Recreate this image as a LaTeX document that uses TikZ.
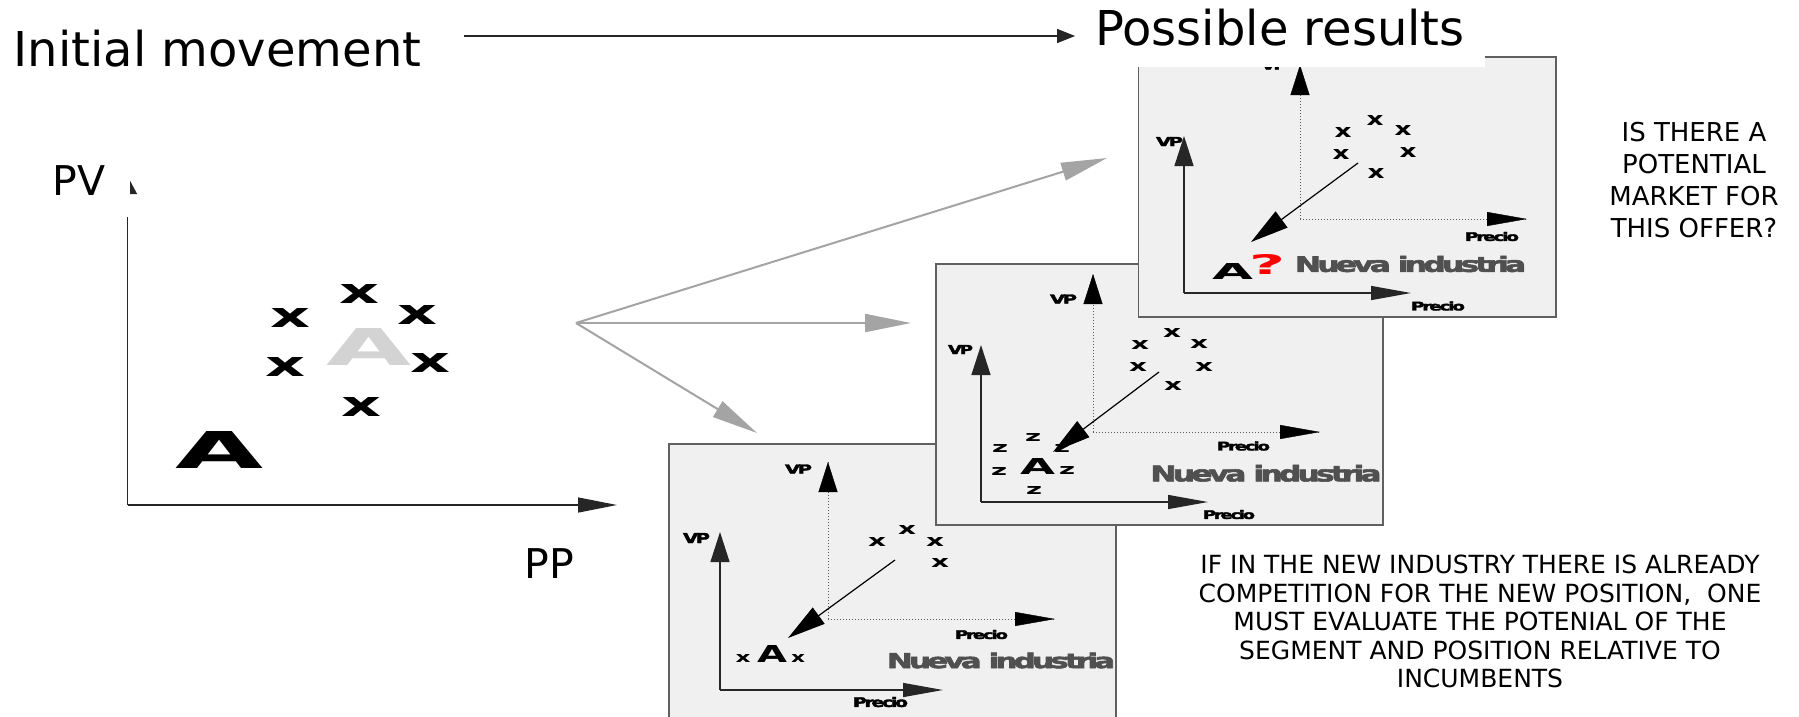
\documentclass[tikz,border=0pt]{standalone}
\usepackage{graphicx}
\usepackage{fontspec}
\setmainfont{DejaVu Sans}
\newfontfamily\heavyfont[FakeBold=2.5,LetterSpace=-12]{DejaVu Sans Bold}
\usetikzlibrary{arrows.meta}

\definecolor{panelfill}{HTML}{F0F0F0}
\definecolor{panelline}{HTML}{606060}
\definecolor{fangray}{HTML}{A4A4A4}
\definecolor{ghost}{HTML}{D3D3D3}
\definecolor{industry}{HTML}{505050}
\definecolor{qred}{HTML}{FF0000}

% bold glyph stretched to an exact box (width, height in pt)
\newcommand{\wideglyph}[3]{\resizebox{#1pt}{#2pt}{\bfseries #3}}
% tightly set heavy label stretched to an exact box
\newcommand{\heavylabel}[3]{\resizebox{#1pt}{#2pt}{\heavyfont #3}}

\tikzset{
  glyph/.style={inner sep=0pt, outer sep=0pt},
  axisline/.style={draw=black!85, line width=1.3pt},
  uptip/.style={-{Triangle[length=30pt,width=19pt]}},
  righttip/.style={-{Triangle[length=40pt,width=14pt]}},
  dotaxis/.style={draw=black!65, line width=1pt, dash pattern=on 1pt off 2pt},
  fanarrow/.style={draw=fangray, line width=2pt, -{Triangle[length=46pt,width=18pt]}},
  pointer/.style={draw=black, line width=1.2pt, -{Triangle[length=38pt,width=20pt]}},
  panel/.style={draw=panelline, fill=panelfill, line width=1.5pt},
  bigtext/.style={font=\fontsize{48}{48}\selectfont},
  axtext/.style={font=\fontsize{41}{41}\selectfont},
}

\begin{document}
\begin{tikzpicture}[x=1pt, y=-1pt]
\useasboundingbox (0,0) rectangle (1799,716);
\clip (0,0) rectangle (1799,716);
\fill[white] (0,0) rectangle (1799,716);

% ---------- initial positioning map ----------
\coordinate (L-o) at (127.5,505);
\coordinate (L-y) at (127.5,176);
\coordinate (L-x) at (617,505);
\draw[axisline, -{Triangle[length=18pt,width=19pt]}] (L-o) -- (L-y);
\draw[axisline, -{Triangle[length=39pt,width=15pt]}] (L-o) -- (L-x);
\node[axtext, fill=white, inner xsep=24.5pt, inner ysep=22pt, anchor=base] (pv) at (79,195) {PV};
\node[axtext, anchor=base] (pp) at (549,578) {PP};

\node[glyph] (A-old) at (220,449.5) {\wideglyph{88}{37}{A}};
\node[glyph, text=ghost] (A-new) at (369.5,346.5) {\wideglyph{85}{37}{A}};
\foreach \p [count=\i] in {(359,294),(290,318),(417,315),(285,367),(430,363),(361,407)}
  \node[glyph] (Lx\i) at \p {\wideglyph{40}{19}{x}};

% ---------- fan of possible moves ----------
\coordinate (fan) at (576,323);
\coordinate (to-P3) at (1107,158);
\coordinate (to-P2) at (911,323);
\coordinate (to-P1) at (757,433);
\draw[fanarrow] (fan) -- (to-P3);
\draw[fanarrow] (fan) -- (to-P2);
\draw[fanarrow] (fan) -- (to-P1);

% ---------- result 1: competitors already there ----------
\path[panel] (669,444) rectangle (1116,740);
\coordinate (P1-o) at (720,690);
\coordinate (P1-y) at (720,532);
\coordinate (P1-x) at (943,690);
\coordinate (P1-bo) at (828,619);
\coordinate (P1-by) at (828,462);
\coordinate (P1-bx) at (1055,619);
\draw[dotaxis] (P1-bo) -- (P1-by);
\draw[dotaxis] (P1-bo) -- (P1-bx);
\draw[black, uptip] ([yshift=-28pt]P1-by) -- (P1-by);
\draw[black, righttip] ([xshift=-38pt]P1-bx) -- (P1-bx);
\draw[axisline, uptip] (P1-o) -- (P1-y);
\draw[axisline, righttip] (P1-o) -- (P1-x);
\node[glyph] (P1-vp) at (696.5,538) {\heavylabel{27}{10}{VP}};
\node[glyph] (P1-pr) at (880.5,702) {\heavylabel{55}{10}{Precio}};
\node[glyph] (P1-bvp) at (798.5,469) {\heavylabel{27}{9}{VP}};
\node[glyph] (P1-bpr) at (981.5,634.5) {\heavylabel{53}{9}{Precio}};
\foreach \p [count=\i] in {(877,542),(907,530),(935,542),(940,563)}
  \node[glyph] (P1x\i) at \p {\wideglyph{18}{9}{x}};
\node[glyph] (P1-xl) at (743,658) {\wideglyph{15}{8}{x}};
\node[glyph] (P1-A) at (772,653.5) {\wideglyph{30}{17}{A}};
\node[glyph] (P1-xr) at (798,658) {\wideglyph{14}{8}{x}};
\node[glyph, text=industry] (P1-ind) at (1001,660.5) {\heavylabel{228}{15.5}{Nueva industria}};
\coordinate (P1-from) at (895,560);
\coordinate (P1-to) at (788,638);
\draw[pointer] (P1-from) -- (P1-to);

% ---------- result 2: new competitors around A ----------
\path[panel] (936,264) rectangle (1383,525);
\coordinate (P2-o) at (981,502);
\coordinate (P2-y) at (981,345);
\coordinate (P2-x) at (1208,502);
\coordinate (P2-bo) at (1093,432);
\coordinate (P2-by) at (1093,274);
\coordinate (P2-bx) at (1320,432);
\draw[dotaxis] (P2-bo) -- (P2-by);
\draw[dotaxis] (P2-bo) -- (P2-bx);
\draw[black, uptip] ([yshift=-28pt]P2-by) -- (P2-by);
\draw[black, righttip] ([xshift=-38pt]P2-bx) -- (P2-bx);
\draw[axisline, uptip] (P2-o) -- (P2-y);
\draw[axisline, righttip] (P2-o) -- (P2-x);
\node[glyph] (P2-vp) at (960.5,349.5) {\heavylabel{25}{9}{VP}};
\node[glyph] (P2-pr) at (1229,514.5) {\heavylabel{52}{9}{Precio}};
\node[glyph] (P2-bvp) at (1063.5,299) {\heavylabel{27}{9}{VP}};
\node[glyph] (P2-bpr) at (1243.5,446) {\heavylabel{53}{9}{Precio}};
\foreach \p [count=\i] in {(1140,345),(1172,333),(1199,344),(1138,367),(1204,367),(1173,386)}
  \node[glyph] (P2x\i) at \p {\wideglyph{18}{9}{x}};
\foreach \p [count=\i] in {(1033,437),(1000,448),(1062,448),(999,471),(1067,470),(1034,490)}
  \node[glyph] (P2z\i) at \p {\wideglyph{16}{8}{z}};
\node[glyph] (P2-A) at (1037.5,466) {\wideglyph{35}{16}{A}};
\node[glyph, text=industry] (P2-ind) at (1266,473.3) {\heavylabel{231}{16.5}{Nueva industria}};
\coordinate (P2-from) at (1159,372);
\coordinate (P2-to) at (1053,452);
\draw[pointer] (P2-from) -- (P2-to);

% ---------- result 3: unexplored space ----------
\path[panel] (1138.5,57) rectangle (1556,317);
\coordinate (P3-o) at (1184,293);
\coordinate (P3-y) at (1184,136);
\coordinate (P3-x) at (1411,293);
\coordinate (P3-bo) at (1300,219);
\coordinate (P3-by) at (1300,65);
\coordinate (P3-bx) at (1527,219);
\draw[dotaxis] (P3-bo) -- (P3-by);
\draw[dotaxis] (P3-bo) -- (P3-bx);
\draw[black, uptip] ([yshift=-28pt]P3-by) -- (P3-by);
\draw[black, righttip] ([xshift=-38pt]P3-bx) -- (P3-bx);
\draw[axisline, uptip] (P3-o) -- (P3-y);
\draw[axisline, righttip] (P3-o) -- (P3-x);
\node[glyph] (P3-vp) at (1169.5,141.5) {\heavylabel{27}{9}{VP}};
\node[glyph] (P3-pr) at (1438,306) {\heavylabel{54}{9}{Precio}};
\node[glyph] (P3-bvp) at (1274,65) {\heavylabel{26}{9}{VP}};
\node[glyph] (P3-bpr) at (1492,236.5) {\heavylabel{54}{9}{Precio}};
\foreach \p [count=\i] in {(1343,132),(1375,120),(1403,130),(1341,154),(1408,152),(1376,173)}
  \node[glyph] (P3x\i) at \p {\wideglyph{17}{10}{x}};
\node[glyph] (P3-A) at (1232.5,271) {\wideglyph{41}{16}{A}};
\node[glyph, text=qred] (P3-q) at (1267,264) {\wideglyph{36}{20}{?}};
\node[glyph, text=industry] (P3-ind) at (1410.5,264) {\heavylabel{231}{16}{Nueva industria}};
\coordinate (P3-from) at (1358,163);
\coordinate (P3-to) at (1251,242);
\draw[pointer] (P3-from) -- (P3-to);

% ---------- headings ----------
\node[bigtext, fill=white, inner xsep=20pt, inner ysep=20.5pt, anchor=base] (results) at (1280,45.5) {Possible results};
\node[bigtext, inner xsep=42pt, anchor=base] (initial) at (217.5,66) {Initial movement};
\coordinate (mv) at (initial.east |- 0,36);
\draw[line width=1.3pt, black!85, -{Triangle[length=18pt,width=14pt]}] (mv) -- (mv -| results.west);

% ---------- comments ----------
\node[anchor=north, align=center, inner sep=0pt, font=\fontsize{26}{32}\selectfont] (question) at (1694,121.7)
  {IS THERE A\\POTENTIAL\\MARKET FOR\\THIS OFFER?};
\node[anchor=north, align=center, inner sep=0pt, font=\fontsize{25}{28.5}\selectfont] (note) at (1480,554.8)
  {IF IN THE NEW INDUSTRY THERE IS ALREADY\\COMPETITION FOR THE NEW POSITION,\ \ ONE\\MUST EVALUATE THE POTENIAL OF THE\\SEGMENT AND POSITION RELATIVE TO\\INCUMBENTS};
\end{tikzpicture}
\end{document}
